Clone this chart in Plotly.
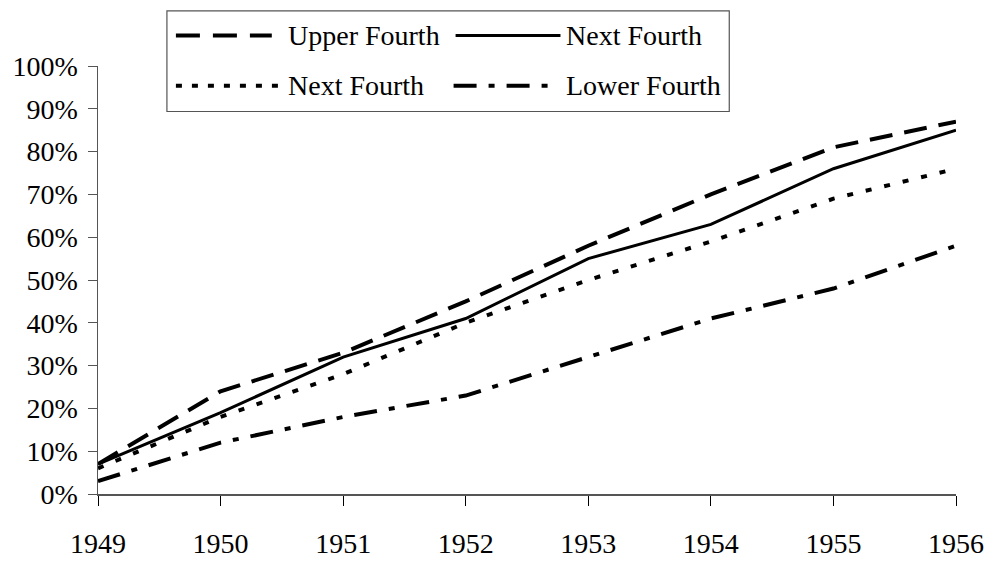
import plotly.graph_objects as go

years = [1949, 1950, 1951, 1952, 1953, 1954, 1955, 1956]
upper_fourth = [7, 24, 33, 45, 58, 70, 81, 87]
next_fourth_solid = [7, 19, 32, 41, 55, 63, 76, 85]
next_fourth_dotted = [6, 18, 28, 40, 50, 59, 69, 76]
lower_fourth = [3, 12, 18, 23, 32, 41, 48, 58]
series_names = ["Upper Fourth", "Next Fourth", "Next Fourth", "Lower Fourth"]
y_ticks = [0, 10, 20, 30, 40, 50, 60, 70, 80, 90, 100]
y_tick_labels = [f"{v}%" for v in y_ticks]
x_tick_labels = [str(y) for y in years]

FONT = "Liberation Serif, Times New Roman, serif"
W, H = 996, 571
ML, MR, MT, MB = 98, 39, 66, 63
PW, PH = W - ML - MR, H - MT - MB

DASH = "23px,12px"
DOT = "6px,13px"
DASHDOT = "23px,12px,6px,12px"

styles = [
    dict(dash=DASH, width=4),
    dict(dash="solid", width=3),
    dict(dash=DOT, width=4),
    dict(dash=DASHDOT, width=4),
]
series = [upper_fourth, next_fourth_solid, next_fourth_dotted, lower_fourth]

fig = go.Figure()
for name, vals, st in zip(series_names, series, styles):
    fig.add_trace(go.Scatter(
        x=years, y=vals, mode="lines", name=name, showlegend=False,
        line=dict(color="black", width=st["width"], dash=st["dash"]),
        cliponaxis=False, hoverinfo="skip",
    ))


def px(x):
    return (x - ML) / PW


def py(y):
    return (MT + PH - y) / PH


shapes = [
    dict(type="rect", xref="paper", yref="paper",
         x0=px(167), x1=px(730), y0=py(113), y1=py(9),
         line=dict(color="#555", width=1.2), fillcolor="white", layer="below"),
]
legend_items = [
    (176, 272, 34.5, 287, 35, dict(dash="24px,13px", width=4)),
    (456, 561, 34.5, 566, 35, dict(dash="solid", width=3)),
    (176, 282, 86.5, 287, 86, dict(dash="6px,10px", width=4)),
    (454, 553, 86.5, 566, 86, dict(dash="23px,12px,6px,12px", width=4)),
]
annotations = []
for (x0, x1, yl, xt, yt, ln), name in zip(legend_items, series_names):
    shapes.append(dict(type="line", xref="paper", yref="paper",
                       x0=px(x0), x1=px(x1), y0=py(yl), y1=py(yl),
                       line=dict(color="black", width=ln["width"], dash=ln["dash"])))
    annotations.append(dict(xref="paper", yref="paper", x=px(xt), y=py(yt),
                            xanchor="left", yanchor="middle", text=name,
                            showarrow=False, borderpad=0,
                            font=dict(family=FONT, size=28, color="black")))

fig.update_layout(
    width=W, height=H,
    margin=dict(l=ML, r=MR, t=MT, b=MB),
    paper_bgcolor="white", plot_bgcolor="white",
    showlegend=False, hovermode=False,
    font=dict(family=FONT, size=28, color="black"),
    shapes=shapes, annotations=annotations,
    xaxis=dict(range=[1949, 1956], tickmode="array", tickvals=years, ticktext=x_tick_labels,
               showgrid=False, zeroline=False, showline=True, linecolor="#555", linewidth=1.5,
               ticks="outside", ticklen=10, tickcolor="black", tickwidth=1,
               ticklabelstandoff=14,
               tickfont=dict(family=FONT, size=28, color="black")),
    xaxis2=dict(range=[1949, 1956], tickmode="array", tickvals=years, overlaying="x",
                anchor="y", side="bottom",
                showgrid=False, zeroline=False, showline=False, showticklabels=False,
                ticks="inside", ticklen=10, tickcolor="black", tickwidth=1),
    yaxis=dict(range=[0, 100], tickmode="array", tickvals=y_ticks, ticktext=y_tick_labels,
               showgrid=False, zeroline=False, showline=True, linecolor="#555", linewidth=1.5,
               ticks="outside", ticklen=9, tickcolor="#555", tickwidth=1,
               ticklabelstandoff=4,
               tickfont=dict(family=FONT, size=28, color="black")),
    yaxis2=dict(range=[0, 100], tickmode="array", tickvals=y_ticks, overlaying="y",
                anchor="x", side="left",
                showgrid=False, zeroline=False, showline=False, showticklabels=False,
                ticks="inside", ticklen=9, tickcolor="#555", tickwidth=1),
)

fig.write_html("out.html", config={"displayModeBar": False, "staticPlot": True},
               post_script="document.body.style.margin='0';document.body.style.padding='0';")
